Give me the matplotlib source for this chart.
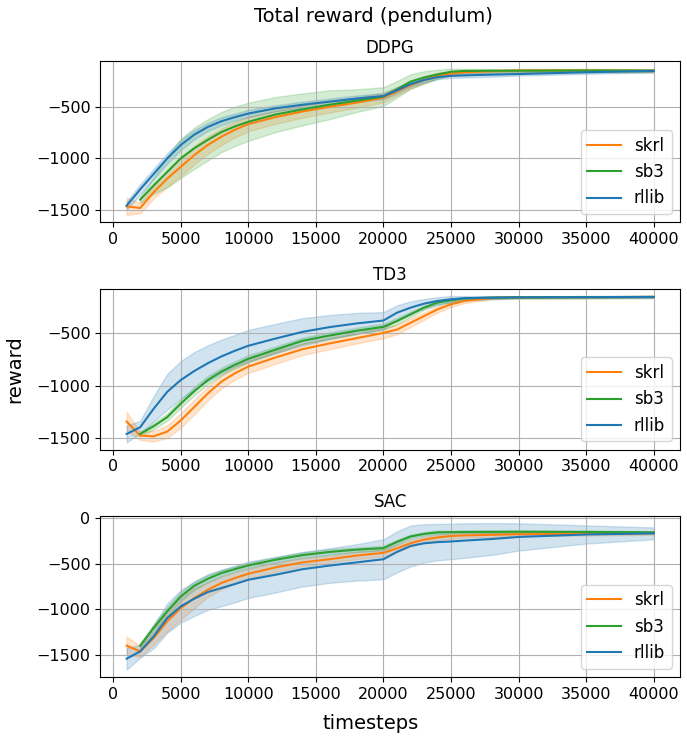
import matplotlib
matplotlib.use("Agg")
import matplotlib.pyplot as plt
import numpy as np

nan = np.nan

timesteps = [1000, 2000, 3000, 4000, 5000, 6000, 7000, 8000, 9000, 10000,
             12000, 14000, 16000, 18000, 20000, 21000, 22000, 23000, 24000,
             25000, 26000, 28000, 30000, 35000, 40000]

# DDPG
ddpg_skrl = [-1465, -1481, -1327, -1196, -1082, -968, -870, -790, -722, -667,
             -600, -545, -500, -460, -410, -350, -290, -240, -195,
             -178, -165, -155, -148, -148, -150]
ddpg_skrl_std = [85, 50, 60, 80, 90, 90, 85, 80, 75, 70,
                 65, 60, 55, 50, 45, 40, 35, 30, 25,
                 20, 15, 15, 15, 15, 15]
ddpg_sb3 = [nan, -1400, -1262, -1131, -1000, -902, -820, -745, -690, -645,
            -575, -525, -480, -440, -400, -330, -255, -215, -185,
            -160, -152, -150, -150, -148, -150]
ddpg_sb3_std = [nan, 30, 80, 150, 190, 200, 200, 195, 190, 185,
                170, 155, 140, 110, 90, 80, 70, 60, 45,
                30, 20, 15, 15, 15, 15]
ddpg_rllib = [-1458, -1300, -1150, -1000, -870, -770, -695, -640, -600, -565,
              -515, -480, -450, -420, -395, -340, -280, -240, -212,
              -200, -195, -188, -182, -165, -152]
ddpg_rllib_std = [40, 50, 50, 50, 50, 45, 40, 40, 35, 35,
                  30, 30, 30, 30, 30, 30, 25, 25, 20,
                  20, 20, 20, 15, 15, 15]

# TD3
td3_skrl = [-1342, -1476, -1482, -1438, -1332, -1204, -1076, -964, -884, -820,
            -734, -655, -600, -550, -500, -468, -404, -340, -276,
            -228, -196, -168, -162, -160, -158]
td3_skrl_std = [90, 40, 50, 60, 70, 70, 65, 65, 60, 60,
                60, 55, 55, 50, 50, 45, 40, 35, 30,
                25, 20, 12, 10, 10, 10]
td3_sb3 = [nan, -1460, -1386, -1300, -1172, -1054, -948, -868, -804, -746,
           -660, -575, -525, -480, -442, -388, -324, -260, -212,
           -190, -172, -165, -162, -160, -158]
td3_sb3_std = [nan, 20, 30, 35, 40, 40, 40, 35, 35, 35,
               30, 30, 30, 30, 30, 30, 25, 20, 20,
               15, 12, 10, 10, 10, 10]
td3_rllib = [-1460, -1396, -1220, -1060, -948, -862, -788, -724, -670, -622,
             -554, -490, -445, -410, -382, -308, -260, -222, -196,
             -180, -170, -165, -162, -160, -158]
td3_rllib_std = [80, 60, 120, 170, 180, 180, 170, 160, 150, 150,
                 140, 130, 115, 100, 80, 70, 60, 45, 35,
                 30, 20, 15, 10, 10, 10]

# SAC
sac_skrl = [-1400, -1463, -1316, -1133, -987, -877, -786, -712, -657, -610,
            -540, -485, -450, -410, -380, -330, -275, -235, -210,
            -195, -188, -182, -175, -170, -162]
sac_skrl_std = [100, 60, 70, 110, 130, 110, 80, 70, 60, 55,
                50, 45, 40, 40, 40, 40, 35, 30, 30,
                30, 25, 25, 20, 20, 20]
sac_sb3 = [nan, -1400, -1206, -1023, -859, -742, -665, -602, -559, -518,
           -456, -405, -370, -345, -328, -260, -200, -172, -155,
           -152, -150, -149, -148, -150, -155]
sac_sb3_std = [nan, 30, 40, 50, 50, 45, 40, 35, 30, 30,
               30, 30, 30, 25, 25, 25, 20, 20, 20,
               15, 15, 15, 15, 15, 15]
sac_rllib = [-1543, -1463, -1298, -1097, -968, -884, -811, -767, -723, -676,
             -621, -560, -520, -485, -450, -370, -305, -275, -262,
             -255, -245, -228, -205, -178, -166]
sac_rllib_std = [120, 70, 130, 160, 180, 190, 195, 200, 200, 200,
                 195, 190, 190, 200, 220, 225, 225, 210, 200,
                 195, 190, 175, 150, 100, 65]

panels = [
    ("DDPG", [(ddpg_skrl, ddpg_skrl_std), (ddpg_sb3, ddpg_sb3_std), (ddpg_rllib, ddpg_rllib_std)]),
    ("TD3", [(td3_skrl, td3_skrl_std), (td3_sb3, td3_sb3_std), (td3_rllib, td3_rllib_std)]),
    ("SAC", [(sac_skrl, sac_skrl_std), (sac_sb3, sac_sb3_std), (sac_rllib, sac_rllib_std)]),
]
libs = ["skrl", "sb3", "rllib"]
colors = ["tab:orange", "tab:green", "tab:blue"]

plt.rcParams["font.size"] = 11.5

fig, axes = plt.subplots(3, 1, figsize=(6.87, 7.39), dpi=100)
fig.subplots_adjust(left=0.146, right=0.99, top=0.917, bottom=0.084, hspace=0.41)

x = np.array(timesteps)
for ax, (title, series) in zip(axes, panels):
    for (mean, std), name, c in zip(series, libs, colors):
        m = np.array(mean, dtype=float)
        s = np.array(std, dtype=float)
        ax.fill_between(x, m - s, m + s, color=c, alpha=0.2)
        ax.plot(x, m, color=c, label=name)
    ax.set_title(title, fontsize=12)
    ax.grid(True)
    ax.set_xticks(np.arange(0, 40001, 5000))
    ax.legend(loc="lower right", fontsize=12)

fig.suptitle("Total reward (pendulum)", x=0.543, y=0.99, fontsize=14)
fig.text(0.54, 0.008, "timesteps", ha="center", va="bottom", fontsize=14)
fig.text(0.008, 0.5, "reward", ha="left", va="center", rotation=90, fontsize=14)

fig.savefig("out.png")
